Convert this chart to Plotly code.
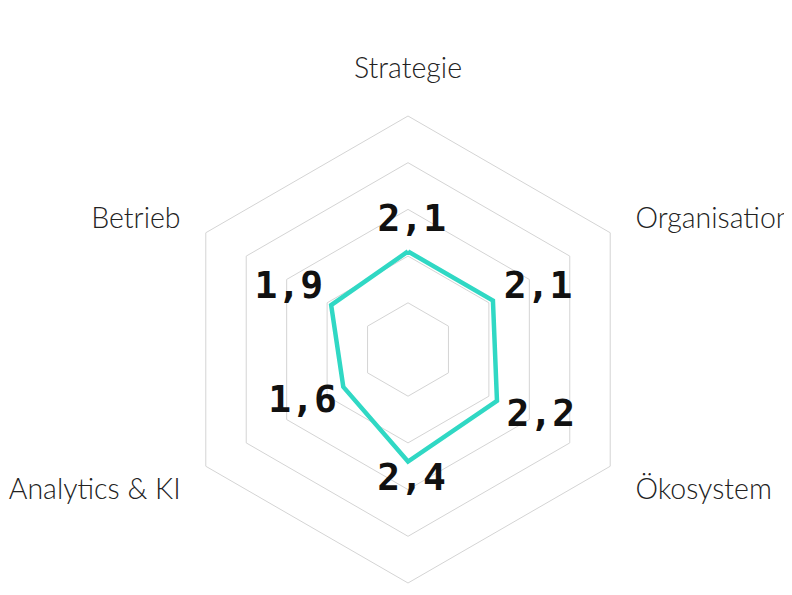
import plotly.graph_objects as go

categories = ["Strategie", "Organisation", "Ökosystem", "Technologie", "Analytics & KI", "Betrieb"]
values = [2.1, 2.1, 2.2, 2.4, 1.6, 1.9]
value_labels = ["2,1", "2,1", "2,2", "2,4", "1,6", "1,9"]
grid_ticks = [1, 2, 3, 4, 5]

# label placement (style): radial padding and small angular nudge per label
label_dr = [0.65, 0.98, 0.99, 0.40, 0.92, 0.97]
label_dtheta = [1.7, 4.8, -3.1, -1.6, 3.5, -2.7]

teal = "#30d8c4"
grid = "#d4d4d4"
cat_font = dict(family="Lato", size=28.5, color="#222222", weight=300)

n = len(categories)
base_angles = [i * 360.0 / n for i in range(n)]
label_r = [v + d for v, d in zip(values, label_dr)]
label_theta = [a + d for a, d in zip(base_angles, label_dtheta)]

# vertical categories labelled on the hexagon axis, diagonal ones on the overlay axis
vertical_idx = [0, 3]
diagonal_idx = [1, 2, 4, 5]
hex_text = [c if i in vertical_idx else "" for i, c in enumerate(categories)]
nb = "\u00a0"
diag_text = []
for i in diagonal_idx:
    a = base_angles[i]
    diag_text.append(nb + categories[i] if a < 180 else categories[i] + nb)

fig = go.Figure()
fig.add_trace(go.Scatterpolar(
    r=values + values[:1],
    theta=categories + categories[:1],
    mode="lines",
    line=dict(color=teal, width=4.5),
    hoverinfo="skip",
    showlegend=False,
    subplot="polar",
))
fig.add_trace(go.Scatterpolar(
    r=label_r,
    theta=label_theta,
    mode="text",
    text=value_labels,
    textposition="middle center",
    textfont=dict(family="DejaVu Sans Mono", size=38, color="#111111", weight="bold"),
    hoverinfo="skip",
    showlegend=False,
    subplot="polar2",
))

domain = dict(x=[0, 1], y=[0, 1])

fig.update_layout(
    width=792,
    height=595,
    margin=dict(l=92, r=84, t=108, b=20),
    paper_bgcolor="white",
    plot_bgcolor="white",
    showlegend=False,
    polar=dict(
        domain=domain,
        bgcolor="white",
        gridshape="linear",
        radialaxis=dict(
            range=[0, 5],
            tickvals=grid_ticks,
            showticklabels=False,
            ticks="",
            showline=False,
            gridcolor=grid,
            gridwidth=1,
        ),
        angularaxis=dict(
            rotation=90,
            direction="clockwise",
            tickmode="array",
            tickvals=categories,
            ticktext=hex_text,
            showgrid=False,
            showline=True,
            linecolor=grid,
            linewidth=1,
            ticks="outside",
            ticklen=26,
            tickcolor="rgba(0,0,0,0)",
            tickfont=cat_font,
        ),
    ),
    polar2=dict(
        domain=domain,
        bgcolor="rgba(0,0,0,0)",
        radialaxis=dict(range=[0, 5], visible=False),
        angularaxis=dict(
            type="linear",
            thetaunit="degrees",
            rotation=90,
            direction="clockwise",
            showgrid=False,
            showline=False,
            tickmode="array",
            tickvals=[base_angles[i] for i in diagonal_idx],
            ticktext=diag_text,
            ticks="outside",
            ticklen=14,
            tickcolor="rgba(0,0,0,0)",
            tickfont=cat_font,
        ),
    ),
)

fig.write_html("out.html")
